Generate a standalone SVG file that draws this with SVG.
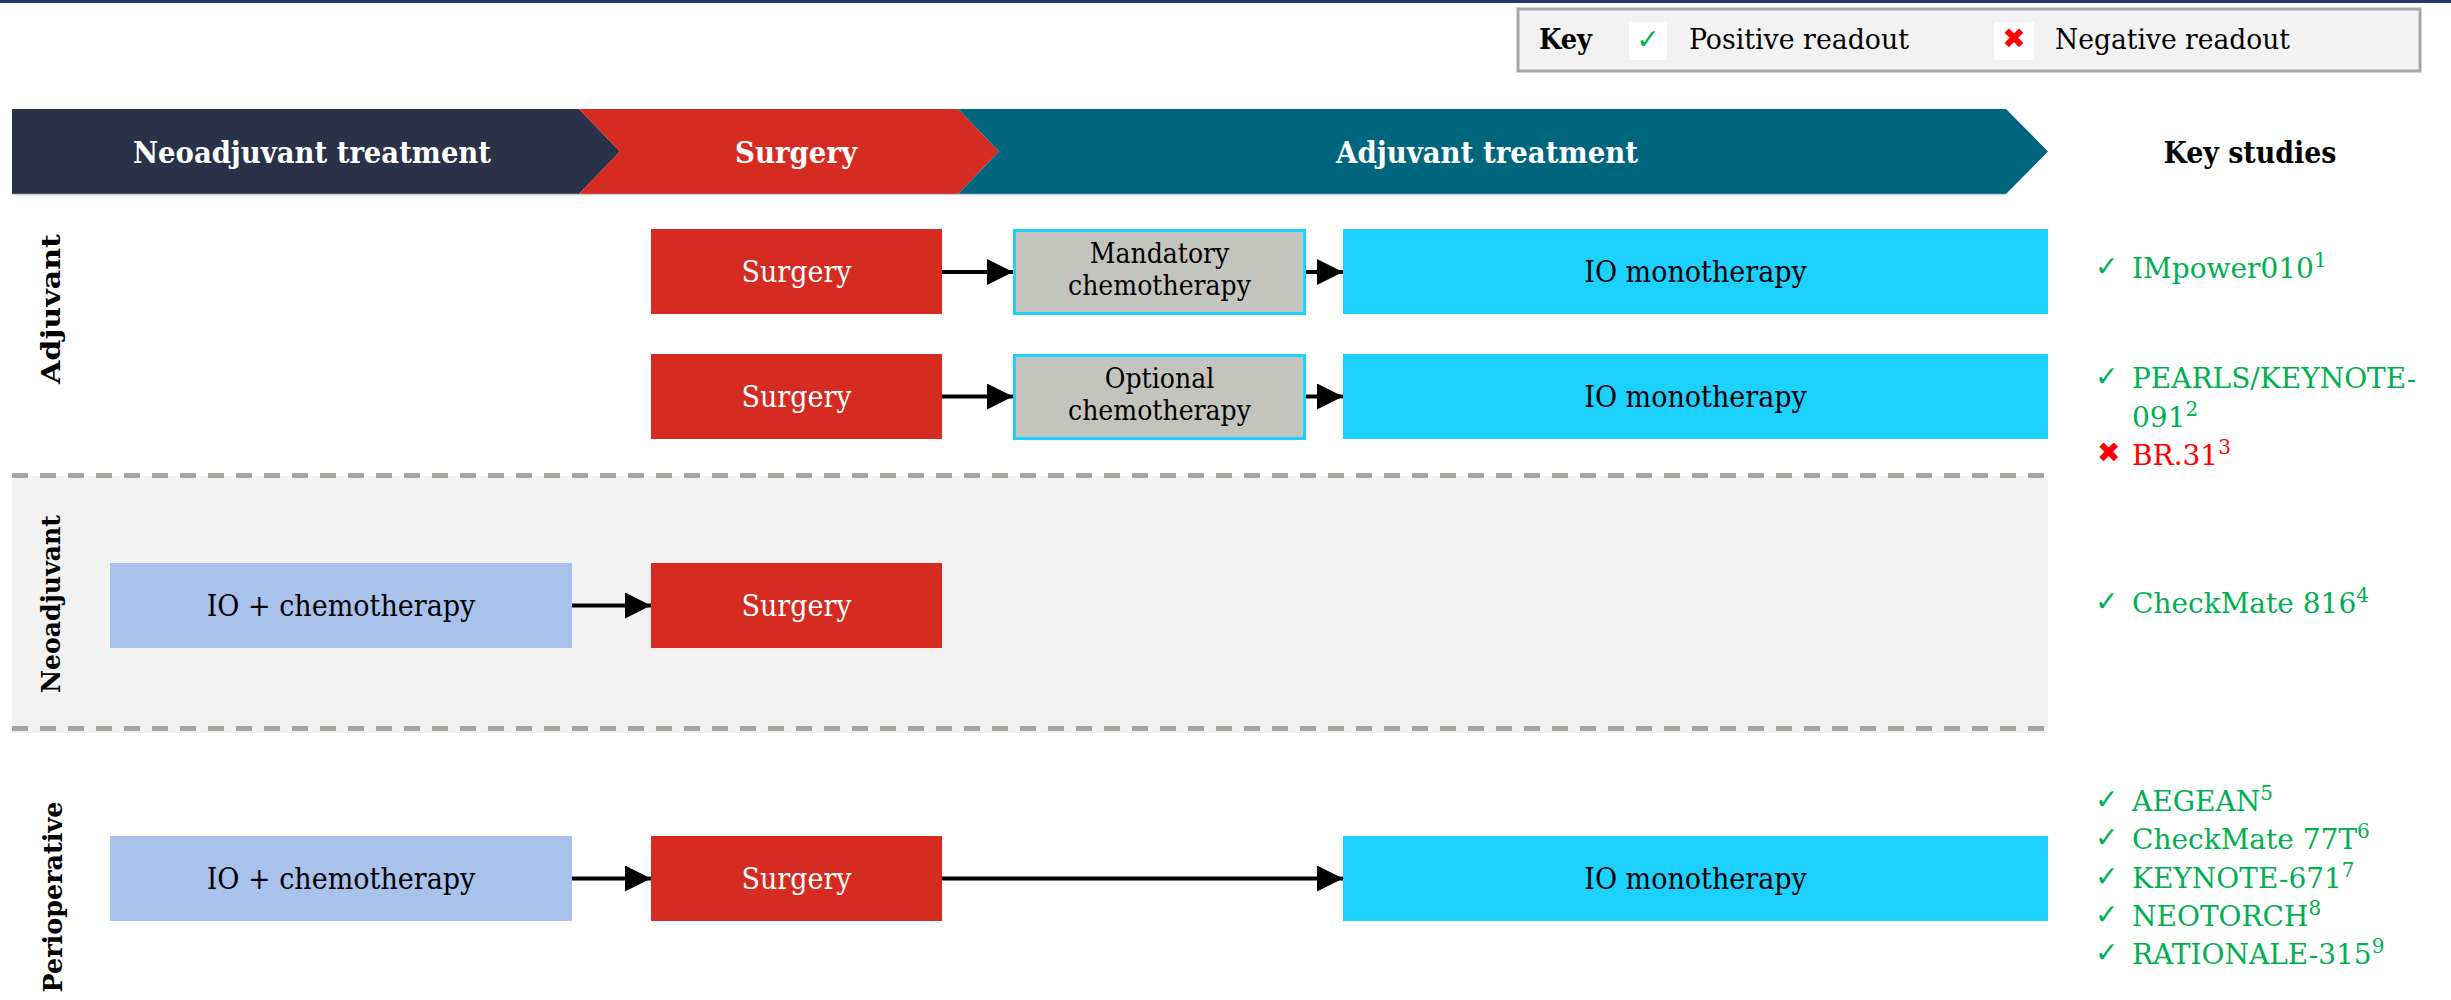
<svg xmlns="http://www.w3.org/2000/svg" width="2451" height="1000" viewBox="0 0 2451 1000">
<defs>
<style>
.bt{font-family:"DejaVu Serif Condensed","DejaVu Serif",serif;font-weight:bold;font-size:30px;fill:#fff;text-anchor:middle}
.bx{font-family:"DejaVu Serif Condensed","DejaVu Serif",serif;font-size:30px;text-anchor:middle}
.bx2{font-family:"DejaVu Serif Condensed","DejaVu Serif",serif;font-size:28px;text-anchor:middle;fill:#000}
.w{fill:#fff}
.k{fill:#000}
.lbl{font-family:"DejaVu Serif","Liberation Serif",serif;font-weight:bold;font-size:26px;fill:#000;text-anchor:middle}
.st{font-family:"DejaVu Serif","Liberation Serif",serif;font-size:28px;fill:#00b050}
.neg{fill:#ff0000}
.sup{font-size:20px}
.ic{font-family:"DejaVu Sans",sans-serif;font-size:28px}
.leg{font-family:"DejaVu Serif Condensed","DejaVu Serif",serif;font-size:28px;fill:#000}
.surg{fill:#d62b20}
.io{fill:#1cd1fd}
.ioc{fill:#a9c2eb}
.chemo{fill:#c4c4bf;stroke:#1cd1fd;stroke-width:3}
.conn{stroke:#000;stroke-width:4;fill:none;marker-end:url(#ah)}
</style>
<marker id="ah" markerUnits="userSpaceOnUse" markerWidth="26" markerHeight="26" viewBox="0 0 25 25" refX="25" refY="12.5" orient="auto">
<path d="M0,0 L25,12.5 L0,25 z" fill="#000"/>
</marker>
</defs>
<rect width="2451" height="1000" fill="#fff"/>
<line x1="0" y1="1.5" x2="2451" y2="1.5" stroke="#1f3b66" stroke-width="3"/>

<g id="key">
<rect x="1518" y="9" width="902" height="62" fill="#f2f2f2" stroke="#a6a6a6" stroke-width="3"/>
<text x="1539" y="49" class="leg" font-weight="bold" textLength="53" lengthAdjust="spacingAndGlyphs">Key</text>
<rect x="1629" y="22" width="38" height="38" fill="#fff"/>
<text x="1648" y="49" class="ic" fill="#00b050" text-anchor="middle" font-size="22">✓</text>
<text x="1689" y="49" class="leg" textLength="220" lengthAdjust="spacingAndGlyphs">Positive readout</text>
<rect x="1994" y="22" width="40" height="38" fill="#fff"/>
<text x="2014" y="48" class="ic" fill="#ff0000" text-anchor="middle" font-size="15">✖</text>
<text x="2055" y="49" class="leg" textLength="235" lengthAdjust="spacingAndGlyphs">Negative readout</text>
</g>

<g id="banner">
<path d="M12,109 L579,109 L620,151.5 L579,194 L12,194 Z" fill="#293248"/>
<path d="M579,109 L958,109 L999,151.5 L958,194 L579,194 L620,151.5 Z" fill="#d62b20"/>
<path d="M958,109 L2006,109 L2048,151.5 L2006,194 L958,194 L999,151.5 Z" fill="#00667e"/>
<line x1="12" y1="194.5" x2="2006" y2="194.5" stroke="#c8ccd4" stroke-width="1.5"/>
<text x="312" y="163" class="bt" textLength="358" lengthAdjust="spacingAndGlyphs">Neoadjuvant treatment</text>
<text x="796" y="163" class="bt" textLength="122" lengthAdjust="spacingAndGlyphs">Surgery</text>
<text x="1487" y="163" class="bt" textLength="302" lengthAdjust="spacingAndGlyphs">Adjuvant treatment</text>
<text x="2250" y="163" class="bt" style="fill:#000" textLength="173" lengthAdjust="spacingAndGlyphs">Key studies</text>
</g>

<g id="neo-band">
<rect x="12" y="476" width="2036" height="257" fill="#f2f2f2"/>
<line x1="12" y1="475.5" x2="2048" y2="475.5" stroke="#a6a6a0" stroke-width="5" stroke-dasharray="16 12"/>
<line x1="12" y1="728.5" x2="2048" y2="728.5" stroke="#a6a6a0" stroke-width="5" stroke-dasharray="16 12"/>
</g>

<g id="row-labels">
<text class="lbl" transform="translate(60,309) rotate(-90)" textLength="150" lengthAdjust="spacingAndGlyphs">Adjuvant</text>
<text class="lbl" transform="translate(60,604) rotate(-90)" textLength="178" lengthAdjust="spacingAndGlyphs">Neoadjuvant</text>
<text class="lbl" transform="translate(62,897) rotate(-90)" textLength="191" lengthAdjust="spacingAndGlyphs">Perioperative</text>
</g>

<g id="connectors">
<path class="conn" d="M942,272 L1013,272"/>
<path class="conn" d="M1306,272 L1343,272"/>
<path class="conn" d="M942,396.5 L1013,396.5"/>
<path class="conn" d="M1306,396.5 L1343,396.5"/>
<path class="conn" d="M572,605.5 L651,605.5"/>
<path class="conn" d="M572,878.5 L651,878.5"/>
<path class="conn" d="M942,878.5 L1343,878.5"/>
</g>

<g id="a1-surgery"><rect x="651" y="229" width="291" height="85" class="surg"/><text x="796.5" y="282" class="bx w">Surgery</text></g>
<g id="a1-chemo"><rect x="1014.5" y="230.5" width="290" height="83" class="chemo"/><text x="1159.5" y="263" class="bx2">Mandatory</text><text x="1159.5" y="295" class="bx2">chemotherapy</text></g>
<g id="a1-io"><rect x="1343" y="229" width="705" height="85" class="io"/><text x="1695.5" y="282" class="bx k">IO monotherapy</text></g>

<g id="a2-surgery"><rect x="651" y="354" width="291" height="85" class="surg"/><text x="796.5" y="407" class="bx w">Surgery</text></g>
<g id="a2-chemo"><rect x="1014.5" y="355.5" width="290" height="83" class="chemo"/><text x="1159.5" y="388" class="bx2">Optional</text><text x="1159.5" y="420" class="bx2">chemotherapy</text></g>
<g id="a2-io"><rect x="1343" y="354" width="705" height="85" class="io"/><text x="1695.5" y="407" class="bx k">IO monotherapy</text></g>

<g id="n-ioc"><rect x="110" y="563" width="462" height="85" class="ioc"/><text x="341" y="616" class="bx k">IO + chemotherapy</text></g>
<g id="n-surgery"><rect x="651" y="563" width="291" height="85" class="surg"/><text x="796.5" y="616" class="bx w">Surgery</text></g>

<g id="p-ioc"><rect x="110" y="836" width="462" height="85" class="ioc"/><text x="341" y="889" class="bx k">IO + chemotherapy</text></g>
<g id="p-surgery"><rect x="651" y="836" width="291" height="85" class="surg"/><text x="796.5" y="889" class="bx w">Surgery</text></g>
<g id="p-io"><rect x="1343" y="836" width="705" height="85" class="io"/><text x="1695.5" y="889" class="bx k">IO monotherapy</text></g>

<g id="studies">
<text x="2095" y="276" class="ic" fill="#00b050">✓</text>
<text x="2132" y="278" class="st">IMpower010<tspan class="sup" dy="-11">1</tspan></text>
<text x="2095" y="386" class="ic" fill="#00b050">✓</text>
<text x="2132" y="388" class="st">PEARLS/KEYNOTE-</text>
<text x="2132" y="427" class="st">091<tspan class="sup" dy="-11">2</tspan></text>
<text x="2097" y="462" class="ic" fill="#ff0000" font-size="16">✖</text>
<text x="2132" y="465" class="st neg">BR.31<tspan class="sup" dy="-11">3</tspan></text>
<text x="2095" y="611" class="ic" fill="#00b050">✓</text>
<text x="2132" y="613" class="st">CheckMate 816<tspan class="sup" dy="-11">4</tspan></text>
<text x="2095" y="809" class="ic" fill="#00b050">✓</text>
<text x="2132" y="811" class="st">AEGEAN<tspan class="sup" dy="-11">5</tspan></text>
<text x="2095" y="847" class="ic" fill="#00b050">✓</text>
<text x="2132" y="849" class="st">CheckMate 77T<tspan class="sup" dy="-11">6</tspan></text>
<text x="2095" y="886" class="ic" fill="#00b050">✓</text>
<text x="2132" y="888" class="st">KEYNOTE-671<tspan class="sup" dy="-11">7</tspan></text>
<text x="2095" y="924" class="ic" fill="#00b050">✓</text>
<text x="2132" y="926" class="st">NEOTORCH<tspan class="sup" dy="-11">8</tspan></text>
<text x="2095" y="962" class="ic" fill="#00b050">✓</text>
<text x="2132" y="964" class="st">RATIONALE-315<tspan class="sup" dy="-11">9</tspan></text>
</g>
</svg>
